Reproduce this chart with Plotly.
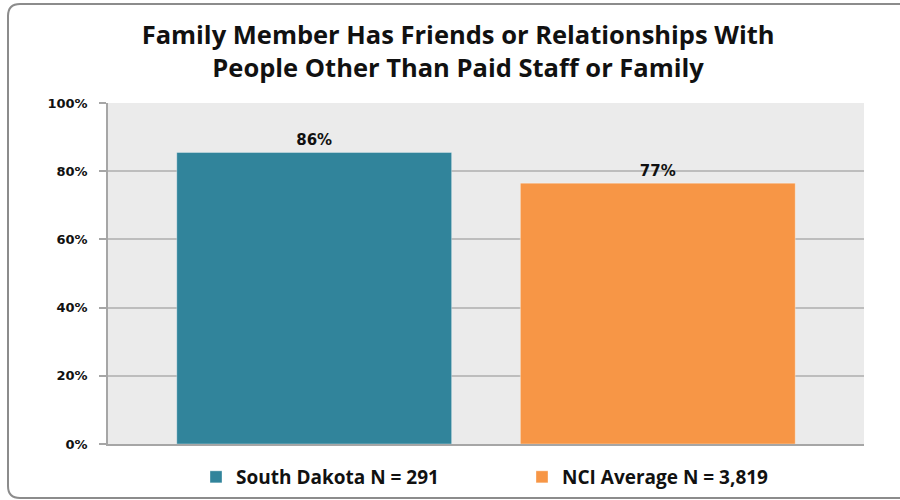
import plotly.graph_objects as go

# ---- data ----
series_names = ["South Dakota N = 291", "NCI Average N = 3,819"]
series_values = [0.855, 0.765]
value_labels = ["86%", "77%"]
series_colors = ["#31849B", "#F79646"]
category = [""]
tick_vals = [0, 0.2, 0.4, 0.6, 0.8, 1.0]
tick_text = ["0%", "20%", "40%", "60%", "80%", "100%"]
title_text = ("Family Member Has Friends or Relationships With<br>"
              "People Other Than Paid Staff or Family")

W, H = 900, 500
L, R, T, B = 108, 36, 103, 56

fig = go.Figure()
for name, val, lab, col in zip(series_names, series_values, value_labels, series_colors):
    fig.add_trace(go.Bar(
        x=category, y=[val], name=name,
        text=[lab], textposition="outside",
        textfont=dict(family="DejaVu Sans", size=15, color="#111111", weight="bold"),
        marker=dict(color=col, line=dict(color="rgba(255,255,255,0.35)", width=1)),
        cliponaxis=False,
    ))

# rounded frame (decoration) built in pixel space -> paper coords
def px(x):
    return (x - L) / (W - L - R)

def py(y):
    return (H - B - y) / (H - T - B)

x0, y0, x1, y1, r = 8, 4, 912, 498, 12
path = (f"M {px(x0+r)},{py(y0)} L {px(x1-r)},{py(y0)} "
        f"Q {px(x1)},{py(y0)} {px(x1)},{py(y0+r)} L {px(x1)},{py(y1-r)} "
        f"Q {px(x1)},{py(y1)} {px(x1-r)},{py(y1)} L {px(x0+r)},{py(y1)} "
        f"Q {px(x0)},{py(y1)} {px(x0)},{py(y1-r)} L {px(x0)},{py(y0+r)} "
        f"Q {px(x0)},{py(y0)} {px(x0+r)},{py(y0)} Z")

fig.update_layout(
    width=W, height=H,
    margin=dict(l=L, r=R, t=T, b=B, autoexpand=False),
    paper_bgcolor="white",
    plot_bgcolor="#EBEBEB",
    barmode="group",
    bargap=0.091,
    bargroupgap=0.2,
    title=dict(text=title_text, x=0.509, xref="container", xanchor="center",
               y=1 - 44 / H, yref="container", yanchor="middle",
               font=dict(family="Open Sans", size=25.5, color="#111111", weight="bold")),
    xaxis=dict(showticklabels=False, showgrid=False, zeroline=False,
               showline=True, linecolor="#A6A6A6", linewidth=1.5, fixedrange=True),
    yaxis=dict(range=[0, 1], tickvals=tick_vals, ticktext=tick_text,
               showgrid=True, gridcolor="#BDBDBD", gridwidth=1.5,
               showline=True, linecolor="#A6A6A6", linewidth=1.5,
               ticks="outside", ticklen=7, tickcolor="#A6A6A6", tickwidth=1.5,
               ticklabelstandoff=9,
               zeroline=False,
               tickfont=dict(family="DejaVu Sans", size=13, color="#111111", weight="bold")),
    legend=dict(orientation="h", x=px(196), xanchor="left", y=py(477), yanchor="middle",
                font=dict(family="Open Sans", size=19, color="#111111", weight="bold"),
                entrywidth=281, entrywidthmode="pixels",
                bgcolor="rgba(0,0,0,0)"),
    shapes=[dict(type="path", xref="paper", yref="paper", path=path,
                 line=dict(color="#8C8C8C", width=2), fillcolor="rgba(0,0,0,0)", layer="below")],
    showlegend=True,
)

fig.write_html("out.html", config={"displayModeBar": False},
               post_script="document.body.style.margin='0';")
